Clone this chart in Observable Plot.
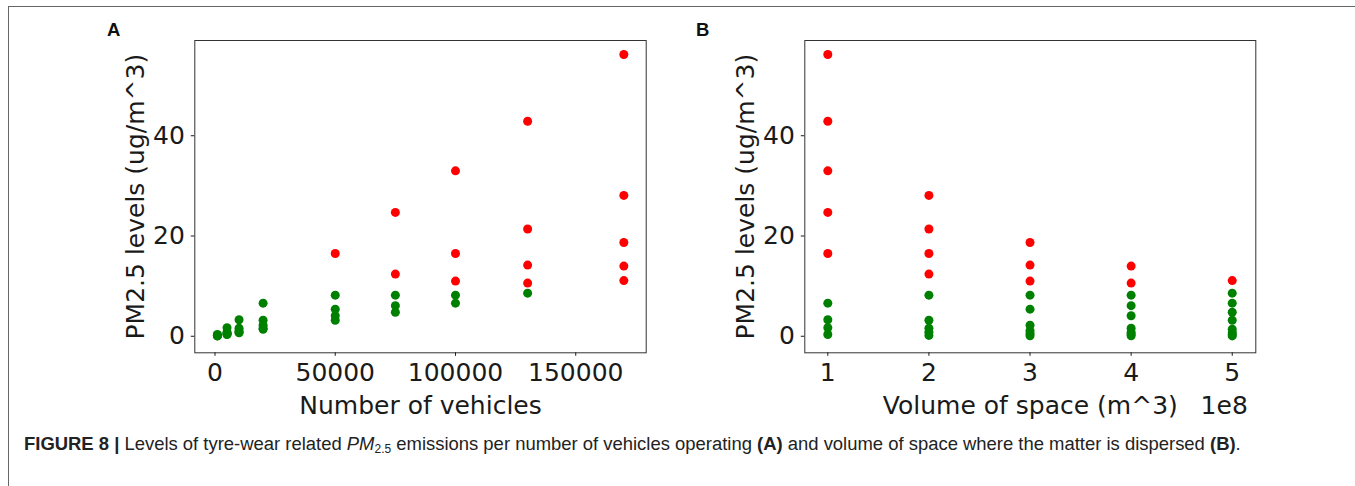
<!DOCTYPE html>
<html>
<head>
<meta charset="utf-8">
<script src="https://cdn.jsdelivr.net/npm/d3@7"></script>
<script src="https://cdn.jsdelivr.net/npm/@observablehq/plot@0.6"></script>
<style>
  body { margin: 0; background: #fff; }
  #page { position: relative; width: 1355px; height: 486px; overflow: hidden; background: #fff; }
  .rule { position: absolute; left: 7.5px; top: 5.5px; width: 1350px; height: 485px;
          border-top: 1.3px solid #666; border-left: 1.3px solid #666; box-sizing: border-box; }
  .panel { position: absolute; top: 0; }
  .tag { position: absolute; font-family: "Liberation Sans", Arial, sans-serif; font-weight: bold;
         font-size: 18.5px; line-height: 18.5px; color: #111; }
  #caption { position: absolute; left: 24px; top: 434.5px; font-family: "Liberation Sans", Arial, sans-serif;
             font-size: 18.45px; line-height: 18.45px; color: #222; white-space: nowrap; }
  #caption sub { font-size: 12px; line-height: 0; vertical-align: -3px; }
</style>
</head>
<body>
<div id="page">
  <div class="rule"></div>
  <div class="panel" id="panelA" style="left:0px"></div>
  <div class="panel" id="panelB" style="left:660px"></div>
  <div class="tag" style="left:107px; top:20.5px">A</div>
  <div class="tag" style="left:696px; top:20.5px">B</div>
  <div id="caption"><b>FIGURE 8 |</b> Levels of tyre-wear related <i>PM</i><sub>2.5</sub> emissions per number of vehicles operating <b>(A)</b> and volume of space where the matter is dispersed <b>(B)</b>.</div>
</div>
<script>
// Number of vehicles operating (panel A x values)
const vehicles = [1000, 5000, 10000, 20000, 50000, 75000, 100000, 130000, 170000];
// Volume of space, in units of 1e8 m^3 (panel B x values)
const volumes = [1, 2, 3, 4, 5];
// PM2.5 levels (ug/m^3), one list per volume, in the order of `vehicles`
const pmVol1 = [0.35, 1.7, 3.3, 6.6, 16.5, 24.7, 33.0, 42.9, 56.2];
const pmVol2 = [0.17, 0.8, 1.6, 3.2, 8.2, 12.4, 16.5, 21.4, 28.1];
const pmVol3 = [0.11, 0.55, 1.1, 2.2, 5.4, 8.2, 11.0, 14.2, 18.7];
const pmVol4 = [0.08, 0.4, 0.8, 1.6, 4.1, 6.1, 8.2, 10.6, 14.0];
const pmVol5 = [0.07, 0.35, 0.7, 1.4, 3.2, 4.8, 6.6, 8.6, 11.1];
const pmByVolume = [pmVol1, pmVol2, pmVol3, pmVol4, pmVol5];
// Threshold above which points are drawn red
const limit = 10;

const yTicks = [0, 20, 40];
const xTicksA = [0, 50000, 100000, 150000];
const xTicksB = [1, 2, 3, 4, 5];
const yLabel = "PM2.5 levels (ug/m^3)";
const xLabelA = "Number of vehicles";
const xLabelB = "Volume of space (m^3)";
const xOffsetB = "1e8";

const rows = volumes.flatMap((v, j) =>
  vehicles.map((n, i) => ({vehicles: n, volume: v, pm: pmByVolume[j][i]})));

const colorOf = d => d.pm > limit ? "#ff0000" : "#008000";
const FS = 25;
const baseStyle = {fontFamily: "'DejaVu Sans', sans-serif", fontSize: FS + "px", color: "#1a1a1a",
                   background: "transparent", overflow: "visible"};

const plotA = Plot.plot({
  width: 660, height: 420,
  marginLeft: 194.3, marginRight: 14.3, marginTop: 40, marginBottom: 67.7,
  style: baseStyle,
  x: {domain: [-8400, 179300]},
  y: {domain: [-3.3, 59.0]},
  color: {type: "identity"},
  marks: [
    Plot.frame({stroke: "#333", strokeWidth: 1}),
    Plot.axisX(xTicksA, {tickSize: 3.5, tickPadding: 6.5, tickFormat: d => String(d), label: null, fontSize: FS}),
    Plot.axisY(yTicks, {tickSize: 3.5, tickPadding: 6.5, label: null, fontSize: FS}),
    Plot.dot(rows, {x: "vehicles", y: "pm", r: 4.5, fill: colorOf, stroke: null}),
    Plot.text([yLabel], {frameAnchor: "left", dx: -59, rotate: -90, textAnchor: "middle", lineAnchor: "middle", fontSize: FS}),
    Plot.text([xLabelA], {frameAnchor: "bottom", dy: 53.5, textAnchor: "middle", lineAnchor: "middle", fontSize: FS})
  ]
});
document.getElementById("panelA").appendChild(plotA);

const plotB = Plot.plot({
  width: 695, height: 420,
  marginLeft: 144.3, marginRight: 99.7, marginTop: 40, marginBottom: 67.7,
  style: baseStyle,
  x: {domain: [0.7725, 5.233]},
  y: {domain: [-3.3, 59.0]},
  color: {type: "identity"},
  marks: [
    Plot.frame({stroke: "#333", strokeWidth: 1}),
    Plot.axisX(xTicksB, {tickSize: 3.5, tickPadding: 6.5, tickFormat: d => String(d), label: null, fontSize: FS}),
    Plot.axisY(yTicks, {tickSize: 3.5, tickPadding: 6.5, label: null, fontSize: FS}),
    Plot.dot(rows, {x: "volume", y: "pm", r: 4.5, fill: colorOf, stroke: null}),
    Plot.text([yLabel], {frameAnchor: "left", dx: -59, rotate: -90, textAnchor: "middle", lineAnchor: "middle", fontSize: FS}),
    Plot.text([xLabelB], {frameAnchor: "bottom", dy: 53.5, textAnchor: "middle", lineAnchor: "middle", fontSize: FS}),
    Plot.text([xOffsetB], {frameAnchor: "bottom-right", dx: -8, dy: 53.5, textAnchor: "end", lineAnchor: "middle", fontSize: FS})
  ]
});
document.getElementById("panelB").appendChild(plotB);
</script>
</body>
</html>
